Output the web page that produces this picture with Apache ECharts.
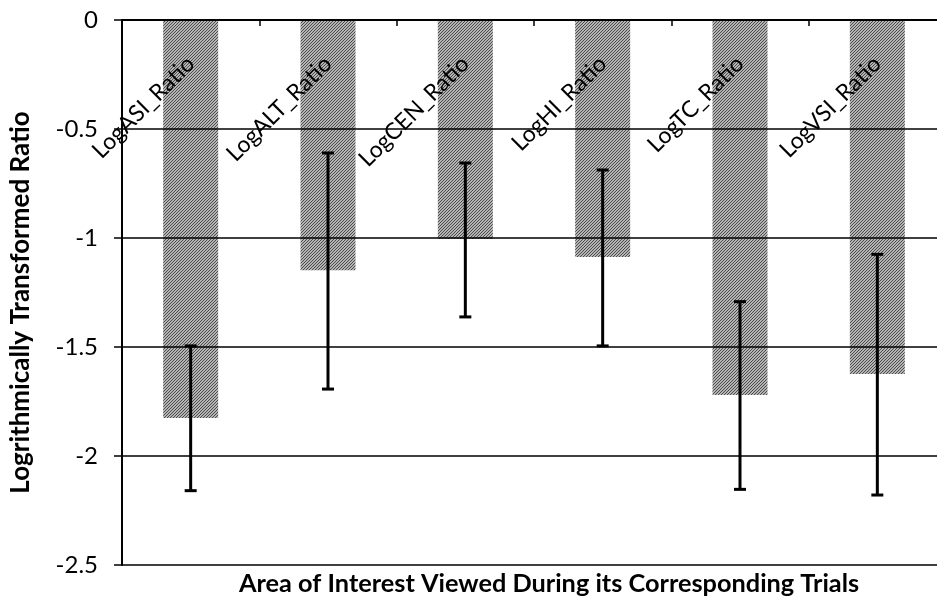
<!DOCTYPE html>
<html>
<head>
<meta charset="utf-8">
<script src="https://cdn.jsdelivr.net/npm/echarts@6/dist/echarts.min.js"></script>
<style>html,body{margin:0;padding:0;background:#fff}#c{width:937px;height:599px}</style>
</head>
<body>
<div id="c"></div>
<script>
const categories = ['LogASI_Ratio', 'LogALT_Ratio', 'LogCEN_Ratio', 'LogHI_Ratio', 'LogTC_Ratio', 'LogVSI_Ratio'];
const means = [-1.826, -1.148, -1.005, -1.087, -1.720, -1.624];
const errUpper = [-1.495, -0.610, -0.656, -0.688, -1.292, -1.075];
const errLower = [-2.159, -1.693, -1.362, -1.495, -2.153, -2.179];
const yTicks = [0, -0.5, -1, -1.5, -2, -2.5];

// hatched grey texture for the bars
const tile = document.createElement('canvas');
tile.width = 3; tile.height = 3;
const tc = tile.getContext('2d');
tc.fillStyle = '#b4b4b4'; tc.fillRect(0, 0, 3, 3);
tc.fillStyle = '#4c4c4c';
for (let i = 0; i < 3; i++) tc.fillRect(i, 2 - i, 1, 1);

const errData = categories.map((c, i) => [i, errLower[i], errUpper[i]]);

const chart = echarts.init(document.getElementById('c'), null, {renderer: 'canvas'});
const FONT = 'Lato';
chart.setOption({
  animation: false,
  backgroundColor: '#ffffff',
  title: {
    text: 'Area of Interest Viewed During its Corresponding Trials',
    left: 234, top: 566,
    textStyle: {fontFamily: FONT, fontWeight: 'bold', fontSize: 25.3, color: '#000'}
  },
  grid: {left: 122, top: 20, width: 824, bottom: 34, outerBoundsMode: 'none'},
  xAxis: {
    type: 'category',
    data: categories,
    position: 'top',
    z: 5,
    axisLine: {onZero: false, lineStyle: {color: '#000', width: 2}},
    axisTick: {show: true, inside: true, length: 6, lineStyle: {color: '#000', width: 1.5}},
    axisLabel: {inside: true, rotate: -45, margin: 40, fontFamily: FONT, fontSize: 23, color: '#000', interval: 0}
  },
  yAxis: {
    type: 'value',
    min: -2.5, max: 0, interval: 0.5,
    z: 4,
    name: 'Logrithmically Transformed Ratio',
    nameLocation: 'middle',
    nameRotate: 90,
    nameGap: 88,
    nameTextStyle: {fontFamily: FONT, fontWeight: 'bold', fontSize: 26, color: '#000', padding: [0, 20, 0, 0]},
    axisLine: {show: true, lineStyle: {color: '#000', width: 2}},
    axisTick: {show: true, length: 8, lineStyle: {color: '#000', width: 1.5}},
    axisLabel: {
      margin: 24, fontFamily: FONT, fontSize: 24, color: '#000',
      formatter: v => { const t = yTicks.find(x => Math.abs(x - v) < 1e-9); return t === undefined ? '' : String(t); }
    },
    splitLine: {show: true, lineStyle: {color: '#000', width: 1.5}}
  },
  series: [
    {
      type: 'bar',
      data: means,
      barWidth: 55,
      itemStyle: {color: {image: tile, repeat: 'repeat'}},
      z: 2
    },
    {
      type: 'custom',
      data: errData,
      z: 6,
      renderItem: function (params, api) {
        const x = api.value(0);
        const lo = api.coord([x, api.value(1)]);
        const hi = api.coord([x, api.value(2)]);
        const hw = 6;
        const st = {stroke: '#000', lineWidth: 3};
        return {
          type: 'group',
          children: [
            {type: 'line', shape: {x1: lo[0], y1: lo[1], x2: hi[0], y2: hi[1]}, style: st},
            {type: 'line', shape: {x1: lo[0] - hw, y1: lo[1], x2: lo[0] + hw, y2: lo[1]}, style: st},
            {type: 'line', shape: {x1: hi[0] - hw, y1: hi[1], x2: hi[0] + hw, y2: hi[1]}, style: st}
          ]
        };
      }
    }
  ]
});
</script>
</body>
</html>
